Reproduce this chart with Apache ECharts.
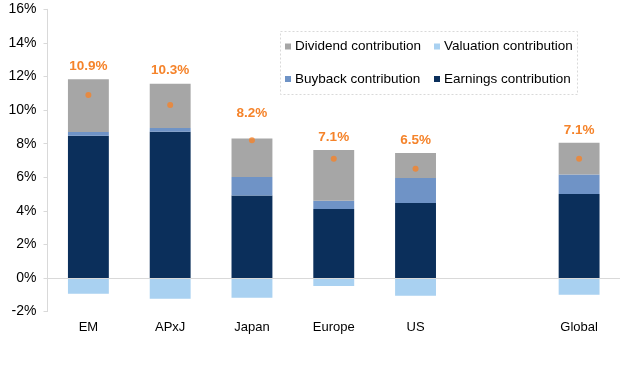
<!DOCTYPE html>
<html>
<head>
<meta charset="utf-8">
<script src="https://cdn.jsdelivr.net/npm/echarts@6/dist/echarts.min.js"></script>
<style>
html,body{margin:0;padding:0;background:#fff;}
#chart{width:622px;height:368px;}
</style>
</head>
<body>
<div id="chart"></div>
<script>
// Data (percent)
const categories = ['EM', 'APxJ', 'Japan', 'Europe', 'US', '', 'Global'];
const earnings   = [8.47, 8.71, 4.92, 4.11, 4.46, null, 5.00];
const buyback    = [0.22, 0.22, 1.09, 0.49, 1.49, null, 1.17];
const dividend   = [3.14, 2.64, 2.30, 3.02, 1.49, null, 1.88];
const valuation  = [-0.93, -1.23, -1.17, -0.48, -1.05, null, -0.99];
const totals     = [10.9, 10.3, 8.2, 7.1, 6.5, null, 7.1];
const yTicks     = [-2, 0, 2, 4, 6, 8, 10, 12, 14, 16];

const FONT = '"Liberation Sans", Arial, sans-serif';
const C_DIV = '#a6a6a6', C_VAL = '#a9d1f1', C_BUY = '#6f93c6', C_EARN = '#0b2f5b', C_ORANGE = '#f5832a';

const chart = echarts.init(document.getElementById('chart'), null, {renderer: 'canvas'});

const dividendData = dividend.map((v, i) => {
  if (v == null) return null;
  const item = {value: v};
  if (categories[i] === 'Japan') item.label = {offset: [0, -12]};
  return item;
});

const legendBase = {
  orient: 'vertical', top: 39.5, padding: 0,
  itemWidth: 6, itemHeight: 6, itemGap: 18.5, icon: 'rect',
  textStyle: {fontFamily: FONT, fontSize: 13.5, color: '#000', padding: [0, 0, 0, -1]}
};

const option = {
  animation: false,
  backgroundColor: '#fff',
  textStyle: {fontFamily: FONT},
  grid: {left: 47.5, right: 2, top: 9.3, bottom: 56.4, containLabel: false},
  graphic: [{
    type: 'rect',
    shape: {x: 280.5, y: 31.5, width: 297, height: 63},
    style: {fill: 'none', stroke: '#d9d9d9', lineWidth: 1, lineDash: [2, 2]},
    silent: true
  }],
  legend: [
    Object.assign({}, legendBase, {left: 285, data: ['Dividend contribution', 'Buyback contribution']}),
    Object.assign({}, legendBase, {left: 434, data: ['Valuation contribution', 'Earnings contribution']})
  ],
  xAxis: {
    type: 'category',
    data: categories,
    axisLine: {show: false},
    axisTick: {show: false},
    axisLabel: {fontFamily: FONT, fontSize: 13, color: '#000', margin: 9, interval: 0}
  },
  yAxis: {
    type: 'value',
    min: yTicks[0], max: yTicks[yTicks.length - 1], interval: 2,
    axisLine: {show: true, lineStyle: {color: '#d9d9d9', width: 1}},
    axisTick: {show: true, length: 4, lineStyle: {color: '#d9d9d9'}},
    splitLine: {show: false},
    axisLabel: {fontFamily: FONT, fontSize: 14, color: '#000', margin: 11, formatter: '{value}%'}
  },
  series: [
    {
      name: 'Earnings contribution', type: 'bar', stack: 'a', barWidth: '50%',
      itemStyle: {color: C_EARN},
      data: earnings,
      markLine: {
        silent: true, symbol: 'none', label: {show: false},
        lineStyle: {color: '#d9d9d9', width: 1, type: 'solid'},
        data: [{yAxis: 0}]
      }
    },
    {
      name: 'Buyback contribution', type: 'bar', stack: 'a', barWidth: '50%',
      itemStyle: {color: C_BUY},
      data: buyback
    },
    {
      name: 'Dividend contribution', type: 'bar', stack: 'a', barWidth: '50%',
      itemStyle: {color: C_DIV},
      data: dividendData,
      label: {
        show: true, position: 'top', distance: 6,
        fontFamily: FONT, fontSize: 13.5, fontWeight: 'bold', color: C_ORANGE,
        formatter: p => totals[p.dataIndex] == null ? '' : totals[p.dataIndex].toFixed(1) + '%'
      }
    },
    {
      name: 'Valuation contribution', type: 'bar', stack: 'a', barWidth: '50%',
      itemStyle: {color: C_VAL},
      data: valuation
    },
    {
      name: 'Total', type: 'scatter', symbol: 'circle', symbolSize: 6,
      itemStyle: {color: C_ORANGE},
      data: totals,
      z: 5
    }
  ]
};

chart.setOption(option);
</script>
</body>
</html>
